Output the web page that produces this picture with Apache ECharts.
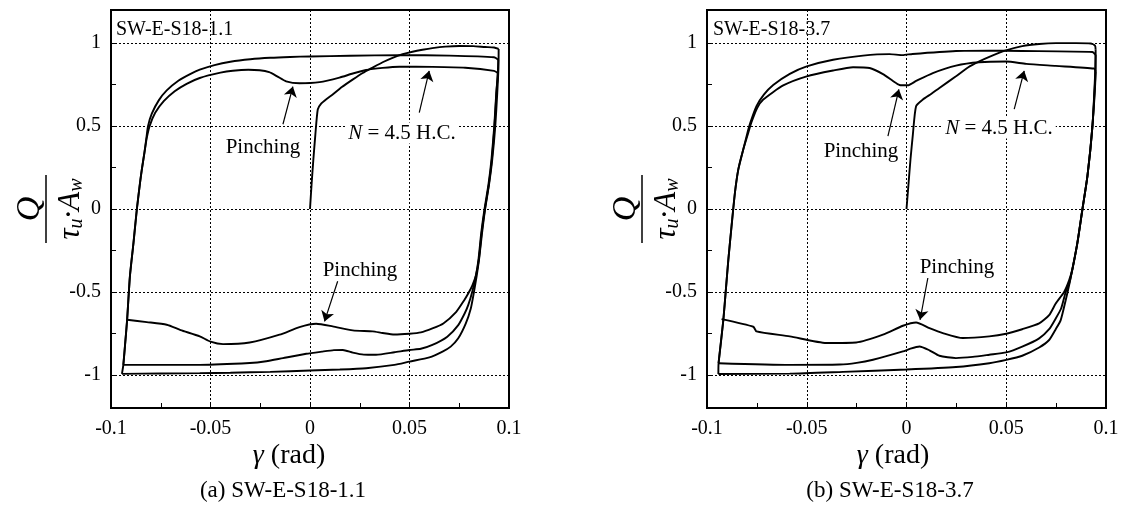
<!DOCTYPE html>
<html>
<head>
<meta charset="utf-8">
<script src="https://cdn.jsdelivr.net/npm/echarts@6/dist/echarts.min.js"></script>
<style>
  html, body { margin: 0; padding: 0; background: #fff; }
  #chart-container { width: 1125px; height: 506px; }
</style>
</head>
<body>
<div id="chart-container"></div>
<script>
// gamma (rad), Q/(tau_u*Aw) -- specimen SW-E-S18-1.1
var p1Initial = [[0,0],[0.0008,0.15],[0.0017,0.3],[0.0027,0.45],[0.0039,0.6],[0.0056,0.635],[0.0085,0.665],[0.0114,0.69],[0.016,0.735],[0.0214,0.78],[0.0265,0.82],[0.0315,0.853],[0.0365,0.885],[0.0415,0.912],[0.0465,0.933],[0.0515,0.948],[0.0565,0.96],[0.0615,0.97],[0.068,0.979],[0.075,0.983],[0.082,0.982],[0.088,0.977],[0.0925,0.974],[0.0948,0.965]];
var p1Neg1 = [[0.0948,0.965],[0.0947,0.85],[0.0941,0.7],[0.0931,0.5],[0.0916,0.3],[0.09,0.15],[0.088,0],[0.0864,-0.15],[0.085,-0.3],[0.0838,-0.4],[0.0824,-0.5],[0.0808,-0.6],[0.0783,-0.69],[0.0745,-0.78],[0.0707,-0.83],[0.0666,-0.86],[0.06,-0.895],[0.05,-0.92],[0.0424,-0.94],[0.0282,-0.96],[0.015,-0.968],[0,-0.974],[-0.02,-0.982],[-0.04,-0.987],[-0.0554,-0.99],[-0.075,-0.992],[-0.0945,-0.994]];
var p1Pos1 = [[-0.0945,-0.994],[-0.0938,-0.94],[-0.0928,-0.8],[-0.0919,-0.668],[-0.0905,-0.406],[-0.0887,-0.204],[-0.087,0],[-0.0855,0.15],[-0.0845,0.239],[-0.0832,0.34],[-0.0822,0.43],[-0.0814,0.5],[-0.0795,0.575],[-0.076,0.655],[-0.072,0.715],[-0.066,0.775],[-0.06,0.815],[-0.0554,0.84],[-0.048,0.868],[-0.04,0.888],[-0.03,0.903],[-0.02,0.912],[-0.01,0.917],[0,0.92],[0.02,0.924],[0.045,0.928],[0.07,0.925],[0.0925,0.915],[0.0946,0.9]];
var p1Neg2 = [[0.0946,0.9],[0.0943,0.8],[0.0936,0.7],[0.0926,0.5],[0.0912,0.3],[0.0897,0.15],[0.0877,0],[0.086,-0.15],[0.0847,-0.3],[0.0834,-0.4],[0.0815,-0.5],[0.0795,-0.58],[0.0777,-0.63],[0.0745,-0.7],[0.069,-0.77],[0.0615,-0.82],[0.0557,-0.843],[0.05,-0.85],[0.0424,-0.864],[0.0332,-0.879],[0.027,-0.878],[0.0215,-0.866],[0.0165,-0.85],[0.012,-0.851],[0.006,-0.86],[-0.0019,-0.873],[-0.0136,-0.899],[-0.022,-0.918],[-0.0303,-0.929],[-0.0554,-0.94],[-0.0938,-0.94]];
var p1Pos2 = [[-0.0938,-0.94],[-0.0928,-0.8],[-0.0919,-0.668],[-0.0905,-0.406],[-0.0887,-0.204],[-0.087,0],[-0.0855,0.15],[-0.0845,0.239],[-0.0832,0.34],[-0.082,0.43],[-0.0806,0.5],[-0.0778,0.58],[-0.0735,0.65],[-0.068,0.71],[-0.062,0.755],[-0.0554,0.79],[-0.045,0.822],[-0.0388,0.834],[-0.031,0.84],[-0.0253,0.837],[-0.0205,0.825],[-0.0165,0.8],[-0.012,0.77],[-0.0053,0.758],[0.0048,0.765],[0.0148,0.792],[0.0215,0.817],[0.0282,0.838],[0.0365,0.851],[0.0449,0.858],[0.0615,0.857],[0.078,0.852],[0.0925,0.833],[0.0944,0.82]];
var p1Neg3 = [[0.0944,0.82],[0.0937,0.7],[0.0927,0.5],[0.0914,0.3],[0.0899,0.15],[0.0879,0],[0.0862,-0.15],[0.0849,-0.3],[0.0834,-0.4],[0.0816,-0.46],[0.0795,-0.51],[0.0775,-0.55],[0.0735,-0.62],[0.067,-0.69],[0.0615,-0.72],[0.0557,-0.744],[0.05,-0.752],[0.0424,-0.757],[0.0365,-0.748],[0.0315,-0.738],[0.0215,-0.732],[0.0114,-0.708],[0.0031,-0.692],[-0.0053,-0.712],[-0.0153,-0.758],[-0.0303,-0.805],[-0.0437,-0.815],[-0.05,-0.8],[-0.0554,-0.768],[-0.065,-0.73],[-0.072,-0.698],[-0.082,-0.682],[-0.0919,-0.668]];

// specimen SW-E-S18-3.7
var p2Initial = [[0,0],[0.001,0.15],[0.002,0.3],[0.0032,0.45],[0.0048,0.62],[0.0082,0.66],[0.0125,0.695],[0.0165,0.73],[0.0248,0.8],[0.031,0.855],[0.0365,0.89],[0.0415,0.917],[0.049,0.953],[0.058,0.982],[0.0665,0.995],[0.075,1.0],[0.085,1.0],[0.0923,0.998],[0.0945,0.985],[0.0948,0.96]];
var p2Neg1 = [[0.0948,0.96],[0.0948,0.843],[0.0932,0.5],[0.0907,0.198],[0.0882,0],[0.0857,-0.204],[0.0832,-0.36],[0.0815,-0.46],[0.0798,-0.55],[0.0773,-0.67],[0.0748,-0.725],[0.0715,-0.79],[0.0665,-0.835],[0.058,-0.885],[0.05,-0.91],[0.0415,-0.93],[0.0248,-0.953],[0,-0.968],[-0.0318,-0.982],[-0.0585,-0.993],[-0.0943,-0.995]];
var p2Pos1 = [[-0.0943,-0.995],[-0.0942,-0.93],[-0.0918,-0.668],[-0.0905,-0.48],[-0.0893,-0.305],[-0.0877,-0.104],[-0.086,0.098],[-0.0843,0.239],[-0.0818,0.36],[-0.0795,0.47],[-0.0783,0.52],[-0.0752,0.62],[-0.0715,0.69],[-0.0668,0.748],[-0.0585,0.815],[-0.05,0.86],[-0.0368,0.9],[-0.0218,0.925],[-0.0085,0.934],[-0.002,0.928],[0.003,0.935],[0.0248,0.953],[0.0415,0.955],[0.058,0.953],[0.0932,0.947],[0.0948,0.93]];
var p2Neg2 = [[0.0948,0.93],[0.0945,0.8],[0.0932,0.5],[0.0907,0.2],[0.0882,0],[0.0857,-0.2],[0.0832,-0.36],[0.0815,-0.45],[0.0798,-0.5],[0.0775,-0.6],[0.0748,-0.66],[0.0715,-0.725],[0.0665,-0.78],[0.058,-0.83],[0.05,-0.865],[0.0415,-0.879],[0.0332,-0.892],[0.0248,-0.899],[0.0165,-0.885],[0.0115,-0.852],[0.0065,-0.829],[0.002,-0.842],[-0.0018,-0.859],[-0.0168,-0.909],[-0.025,-0.928],[-0.0335,-0.938],[-0.0585,-0.94],[-0.0942,-0.93]];
var p2Pos2 = [[-0.0942,-0.93],[-0.0918,-0.668],[-0.0905,-0.48],[-0.0893,-0.305],[-0.0877,-0.104],[-0.086,0.098],[-0.0843,0.239],[-0.0818,0.36],[-0.0793,0.46],[-0.0778,0.52],[-0.0748,0.61],[-0.0718,0.66],[-0.0618,0.745],[-0.05,0.8],[-0.0368,0.835],[-0.0268,0.855],[-0.0185,0.85],[-0.0118,0.813],[-0.0068,0.772],[-0.0035,0.748],[0.0007,0.746],[0.0048,0.772],[0.0132,0.82],[0.0248,0.865],[0.0365,0.885],[0.05,0.889],[0.06,0.875],[0.0748,0.863],[0.094,0.847],[0.0948,0.83]];
var p2Neg3 = [[0.0948,0.83],[0.0932,0.5],[0.0907,0.2],[0.0882,0],[0.0857,-0.2],[0.0832,-0.36],[0.0815,-0.43],[0.079,-0.5],[0.0748,-0.57],[0.0715,-0.64],[0.0665,-0.69],[0.058,-0.725],[0.05,-0.752],[0.0415,-0.768],[0.0282,-0.778],[0.0182,-0.748],[0.0115,-0.718],[0.0048,-0.684],[-0.0018,-0.704],[-0.0118,-0.758],[-0.0252,-0.805],[-0.0402,-0.808],[-0.0585,-0.768],[-0.0752,-0.738],[-0.0768,-0.71],[-0.0927,-0.664]];

// arrows [tail, head] in data units
var p1Arrows = [[[-0.0136,0.511],[-0.0086,0.738]], [[0.0549,0.581],[0.0599,0.833]], [[0.0139,-0.436],[0.0073,-0.678]]];
var p2Arrows = [[[-0.0093,0.44],[-0.0038,0.722]], [[0.054,0.602],[0.059,0.833]], [[0.0107,-0.416],[0.0068,-0.668]]];

var panelNames = ["SW-E-S18-1.1", "SW-E-S18-3.7"];
var captions = ["(a) SW-E-S18-1.1", "(b) SW-E-S18-3.7"];

var serif = '"Liberation Serif", "Times New Roman", serif';

var dom = document.getElementById("chart-container");
var myChart = echarts.init(dom, null, { renderer: "canvas" });

function makeX(gridIndex) {
  return {
    type: "value", gridIndex: gridIndex, min: -0.1, max: 0.1, interval: 0.05,
    axisLine: { show: false, onZero: false },
    axisTick: { show: true, inside: true, length: 5, lineStyle: { color: "#000" } },
    minorTick: { show: true, splitNumber: 2, length: 5, lineStyle: { color: "#000" } },
    axisLabel: { color: "#000", fontFamily: serif, fontSize: 20, margin: 11 },
    splitLine: { show: true, lineStyle: { color: "#000", type: [2, 2], width: 1 } },
  };
}
function makeY(gridIndex) {
  return {
    type: "value", gridIndex: gridIndex, min: -1.2, max: 1.2,
    axisLine: { show: false, onZero: false },
    axisTick: { show: true, inside: true, length: 5, lineStyle: { color: "#000" } },
    minorTick: { show: true, splitNumber: 2, length: 5, lineStyle: { color: "#000" } },
    axisLabel: { color: "#000", fontFamily: serif, fontSize: 20, margin: 10, showMinLabel: false, showMaxLabel: false },
    splitLine: { show: true, lineStyle: { color: "#000", type: [2, 2], width: 1 } },
  };
}
function loop(data, idx, arrows) {
  var s = {
    type: "line", data: data, xAxisIndex: idx, yAxisIndex: idx,
    showSymbol: false, smooth: 0.2, silent: true,
    lineStyle: { color: "#000", width: 1.9 },
  };
  if (arrows) {
    s.markLine = {
      silent: true, symbol: ["none", "arrow"], symbolSize: 10,
      label: { show: false },
      lineStyle: { color: "#000", width: 1.2, type: "solid" },
      data: arrows.map(function (a) { return [{ coord: a[0] }, { coord: a[1] }]; }),
    };
  }
  return s;
}
function yTitle(cx) {
  return {
    type: "group", x: cx, y: 209, rotation: Math.PI / 2, z: 100,
    children: [
      { type: "text", x: 0, y: -16, style: { text: "Q", fontFamily: serif, fontStyle: "italic", fontSize: 34, align: "center", verticalAlign: "middle", fill: "#000" } },
      { type: "line", shape: { x1: -34, y1: 0, x2: 34, y2: 0 }, style: { stroke: "#000", lineWidth: 1.5 } },
      { type: "text", x: 0, y: 25, style: {
        text: "{m|τ}{s|u}{m|·A}{s|w}", align: "center", verticalAlign: "middle", fill: "#000",
        rich: {
          m: { fontFamily: serif, fontStyle: "italic", fontSize: 31, lineHeight: 32 },
          s: { fontFamily: serif, fontStyle: "italic", fontSize: 20, lineHeight: 12, verticalAlign: "bottom" },
        } } },
    ],
  };
}
function txt(x, y, text, extra) {
  var st = { text: text, x: x, y: y, fontFamily: serif, fontSize: 21, fill: "#000", align: "center", verticalAlign: "middle" };
  for (var k in extra) st[k] = extra[k];
  return { type: "text", z: 100, style: st };
}
var nRich = { i: { fontFamily: serif, fontStyle: "italic", fontSize: 21 } };
var gRich = { g: { fontFamily: serif, fontStyle: "italic", fontSize: 28 } };

var option = {
  animation: false,
  grid: [
    { left: 111, top: 10, width: 398, height: 398, show: true, borderColor: "#000", borderWidth: 2 },
    { left: 707, top: 10, width: 399, height: 398, show: true, borderColor: "#000", borderWidth: 2 },
  ],
  xAxis: [makeX(0), makeX(1)],
  yAxis: [makeY(0), makeY(1)],
  series: [
    loop(p1Initial, 0, p1Arrows), loop(p1Neg1, 0), loop(p1Pos1, 0), loop(p1Neg2, 0), loop(p1Pos2, 0), loop(p1Neg3, 0),
    loop(p2Initial, 1, p2Arrows), loop(p2Neg1, 1), loop(p2Pos1, 1), loop(p2Neg2, 1), loop(p2Pos2, 1), loop(p2Neg3, 1),
  ],
  graphic: [
    yTitle(46), yTitle(642),
    txt(116, 30, panelNames[0], { align: "left", fontSize: 20 }),
    txt(713, 30, panelNames[1], { align: "left", fontSize: 20 }),
    txt(263, 147, "Pinching"),
    txt(360, 270, "Pinching"),
    txt(402, 133, "{i|N} = 4.5 H.C.", { rich: nRich, backgroundColor: "#fff", padding: [0, 3] }),
    txt(861, 151, "Pinching"),
    txt(957, 267, "Pinching"),
    txt(999, 128, "{i|N} = 4.5 H.C.", { rich: nRich, backgroundColor: "#fff", padding: [0, 3] }),
    txt(289, 456, "{g|γ} (rad)", { fontSize: 28, rich: gRich }),
    txt(893, 456, "{g|γ} (rad)", { fontSize: 28, rich: gRich }),
    txt(283, 491, captions[0], { fontSize: 23 }),
    txt(890, 491, captions[1], { fontSize: 23 }),
  ],
};

if (option && typeof option === "object") {
  myChart.setOption(option);
}
window.addEventListener("resize", myChart.resize);
</script>
</body>
</html>
